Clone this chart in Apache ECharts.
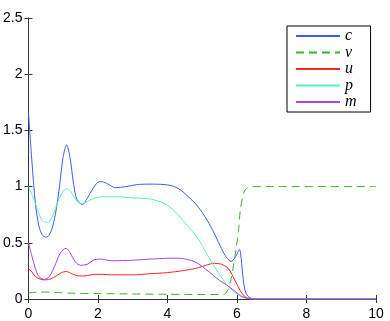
<!DOCTYPE html>
<html lang="en">
<head>
  <meta charset="utf-8">
  <title>c v u p m</title>
  <script src="https://cdn.jsdelivr.net/npm/echarts@6/dist/echarts.min.js"></script>
  <style>
    html, body { margin: 0; padding: 0; background: #fff; }
    #chart { width: 390px; height: 321px; }
  </style>
</head>
<body>
  <div id="chart"></div>
  <script>
    // values
    var cX = [0, 0.1, 0.2, 0.3, 0.4, 0.5, 0.6, 0.7, 0.8, 0.9, 1.0, 1.1, 1.2, 1.3, 1.4, 1.55, 1.7, 1.85, 2.0, 2.1, 2.3, 2.5, 2.8, 3.2, 3.6, 4.0, 4.2, 4.4, 4.6, 4.8, 5.0, 5.2, 5.4, 5.55, 5.7, 5.83, 5.95, 6.07, 6.12, 6.18, 6.25, 6.35, 6.5, 7, 10];
    var cY = [1.66, 1.22, 0.85, 0.65, 0.57, 0.55, 0.57, 0.65, 0.8, 1.02, 1.27, 1.37, 1.25, 1.02, 0.88, 0.84, 0.9, 0.98, 1.04, 1.045, 1.02, 0.99, 1.0, 1.02, 1.022, 1.015, 1.0, 0.965, 0.91, 0.85, 0.77, 0.67, 0.55, 0.45, 0.37, 0.335, 0.37, 0.44, 0.36, 0.17, 0.06, 0.015, 0, 0, 0];

    var vX = [0, 0.3, 0.5, 0.8, 1.2, 2, 3, 4, 5, 5.5, 5.65, 5.75, 5.83, 5.9, 5.97, 6.04, 6.1, 6.2, 6.3, 6.45, 7, 10];
    var vY = [0.055, 0.06, 0.062, 0.058, 0.052, 0.048, 0.045, 0.042, 0.04, 0.04, 0.045, 0.09, 0.18, 0.3, 0.44, 0.6, 0.8, 0.95, 0.99, 1.0, 1.0, 1.0];

    var uX = [0, 0.1, 0.2, 0.35, 0.5, 0.65, 0.8, 0.95, 1.09, 1.25, 1.45, 1.6, 1.8, 2.0, 2.5, 3.0, 3.5, 4.0, 4.4, 4.7, 4.9, 5.1, 5.35, 5.55, 5.7, 5.8, 5.9, 6.0, 6.1, 6.2, 6.3, 6.45, 6.6, 7, 10];
    var uY = [0.27, 0.24, 0.2, 0.175, 0.17, 0.18, 0.205, 0.235, 0.245, 0.225, 0.205, 0.205, 0.215, 0.22, 0.215, 0.215, 0.225, 0.235, 0.25, 0.265, 0.28, 0.3, 0.318, 0.31, 0.285, 0.25, 0.19, 0.13, 0.07, 0.03, 0.01, 0.002, 0, 0, 0];

    var pX = [0, 0.1, 0.2, 0.3, 0.4, 0.54, 0.7, 0.85, 1.0, 1.09, 1.2, 1.35, 1.49, 1.65, 1.85, 2.1, 2.5, 3.0, 3.5, 3.7, 3.9, 4.1, 4.3, 4.5, 4.7, 4.9, 5.1, 5.3, 5.5, 5.7, 5.9, 6.1, 6.3, 6.5, 7, 10];
    var pY = [1.0, 0.93, 0.85, 0.76, 0.7, 0.68, 0.74, 0.87, 0.96, 0.98, 0.96, 0.89, 0.85, 0.86, 0.89, 0.91, 0.91, 0.9, 0.89, 0.875, 0.85, 0.81, 0.75, 0.68, 0.61, 0.53, 0.42, 0.31, 0.22, 0.13, 0.07, 0.025, 0.005, 0, 0, 0];

    var mX = [0, 0.1, 0.2, 0.3, 0.45, 0.6, 0.75, 0.9, 1.0, 1.09, 1.2, 1.35, 1.5, 1.7, 1.9, 2.07, 2.4, 3.0, 3.5, 4.0, 4.3, 4.5, 4.7, 4.9, 5.1, 5.3, 5.5, 5.7, 5.9, 6.1, 6.3, 6.5, 7, 10];
    var mY = [0.5, 0.38, 0.27, 0.2, 0.175, 0.2, 0.29, 0.4, 0.44, 0.45, 0.41, 0.33, 0.3, 0.31, 0.35, 0.355, 0.34, 0.345, 0.355, 0.362, 0.363, 0.357, 0.342, 0.312, 0.265, 0.215, 0.165, 0.125, 0.08, 0.03, 0.005, 0, 0, 0];

    var names = ['c', 'v', 'u', 'p', 'm'];
    var colors = ['#3b5cf6', '#3fae2a', '#ff2424', '#55f5b8', '#a545f5'];

    function pairs(xs, ys) {
      return xs.map(function (x, i) { return [x, ys[i]]; });
    }

    var chart = echarts.init(document.getElementById('chart'), null, { renderer: 'canvas' });

    var lbl = { color: '#000', fontFamily: 'Liberation Sans', fontSize: 14 };
    var line = { show: true, lineStyle: { color: '#333', width: 1 } };
    var tick = { show: true, inside: true, length: 4, lineStyle: { color: '#333' } };

    function series(name, xs, ys, idx, dashed) {
      return {
        name: name,
        type: 'line',
        data: pairs(xs, ys),
        symbol: 'none',
        smooth: 0.3,
        color: colors[idx],
        lineStyle: { color: colors[idx], width: 1, type: dashed ? [8, 5] : 'solid' },
        z: 2 + idx
      };
    }

    chart.setOption({
      animation: false,
      backgroundColor: '#fff',
      grid: { left: 26, right: 14, top: 18, bottom: 21, containLabel: false },
      legend: {
        data: names,
        orient: 'vertical',
        left: 287,
        top: 26,
        itemWidth: 44,
        itemHeight: 10,
        itemGap: 0.5,
        padding: [2, 14, 2, 8],
        backgroundColor: '#fff',
        borderColor: '#000',
        borderWidth: 1,
        borderRadius: 0,
        itemStyle: { opacity: 0 },
        textStyle: { fontFamily: 'Liberation Serif', fontStyle: 'italic', fontSize: 16, color: '#000', lineHeight: 10 }
      },
      xAxis: [{
        type: 'value', min: 0, max: 10, interval: 2,
        axisLine: line, axisTick: tick, splitLine: { show: false },
        axisLabel: Object.assign({ margin: 8 }, lbl)
      }, {
        type: 'value', position: 'top', min: 0, max: 10, interval: 2,
        axisLine: line, axisTick: tick, splitLine: { show: false },
        axisLabel: { show: false }
      }],
      yAxis: [{
        type: 'value', min: 0, max: 2.5, interval: 0.5,
        axisLine: line, axisTick: tick, splitLine: { show: false },
        axisLabel: Object.assign({ margin: 6 }, lbl)
      }, {
        type: 'value', position: 'right', min: 0, max: 2.5, interval: 0.5,
        axisLine: line, axisTick: tick, splitLine: { show: false },
        axisLabel: { show: false }
      }],
      series: [
        series('c', cX, cY, 0, false),
        series('v', vX, vY, 1, true),
        series('u', uX, uY, 2, false),
        series('p', pX, pY, 3, false),
        series('m', mX, mY, 4, false)
      ]
    });

    window.onresize = function () { chart.resize(); };
  </script>
</body>
</html>
